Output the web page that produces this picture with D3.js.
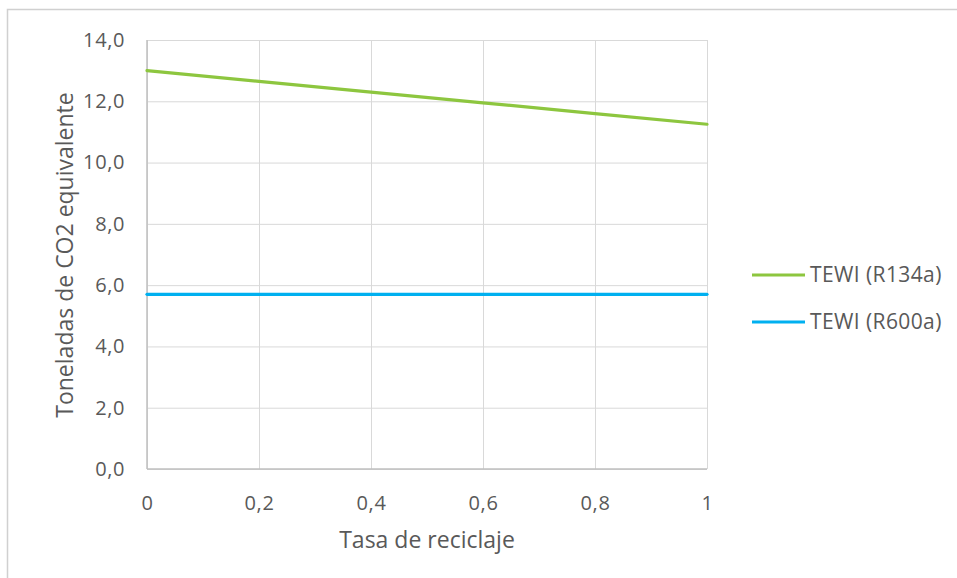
<!DOCTYPE html>
<html>
<head>
<meta charset="utf-8">
<script src="https://cdn.jsdelivr.net/npm/d3@7/dist/d3.min.js"></script>
<style>
  html, body { margin: 0; padding: 0; background: #fff; }
  svg { display: block; }
  text { font-family: "Open Sans", "Noto Sans", sans-serif; fill: #595959; }
</style>
</head>
<body>
<svg id="chart" width="957" height="578"></svg>
<script>
// Recycling rate (x) and TEWI in tonnes of CO2 equivalent
const recyclingRate = [0, 0.2, 0.4, 0.6, 0.8, 1];
const tewiR134a = [13.0, 12.65, 12.3, 11.95, 11.6, 11.25];
const tewiR600a = [5.7, 5.7, 5.7, 5.7, 5.7, 5.7];
const seriesNames = ["TEWI (R134a)", "TEWI (R600a)"];
const seriesColors = ["#8DC63F", "#00B0F0"];
const yTicks = [0, 2, 4, 6, 8, 10, 12, 14];
const xTicks = [0, 0.2, 0.4, 0.6, 0.8, 1];

const svg = d3.select("#chart");

// outer chart frame
svg.append("rect")
  .attr("x", 7.5).attr("y", 9.5)
  .attr("width", 960).attr("height", 580)
  .attr("fill", "none").attr("stroke", "#d0d0d0").attr("stroke-width", 1.5);

const plot = { left: 147, right: 707, top: 40, bottom: 469 };

const x = d3.scaleLinear().domain([0, 1]).range([plot.left, plot.right]);
const y = d3.scaleLinear().domain([0, 14]).range([plot.bottom, plot.top]);

const fmtY = d => d3.format(".1f")(d).replace(".", ",");
const fmtX = d => String(d).replace(".", ",");

// horizontal gridlines + y labels
const yAxis = d3.axisLeft(y).tickValues(yTicks).tickFormat(fmtY)
  .tickSize(-(plot.right - plot.left)).tickPadding(22);
const gy = svg.append("g").attr("transform", `translate(${plot.left},0)`).call(yAxis);
gy.select(".domain").remove();
gy.selectAll(".tick line").attr("stroke", "#d9d9d9").attr("stroke-width", 1);
gy.selectAll(".tick text").style("font-size", "20px").style("letter-spacing", "0.6px")
  .attr("fill", "#595959");

// vertical gridlines + x labels
const xAxis = d3.axisBottom(x).tickValues(xTicks).tickFormat(fmtX)
  .tickSize(-(plot.bottom - plot.top)).tickPadding(27);
const gx = svg.append("g").attr("transform", `translate(0,${plot.bottom})`).call(xAxis);
gx.select(".domain").remove();
gx.selectAll(".tick line").attr("stroke", "#d9d9d9").attr("stroke-width", 1);
gx.selectAll(".tick text").style("font-size", "20px").style("letter-spacing", "0.6px")
  .attr("fill", "#595959");

// axis lines
svg.append("line").attr("x1", plot.left).attr("x2", plot.right)
  .attr("y1", plot.bottom).attr("y2", plot.bottom)
  .attr("stroke", "#bfbfbf").attr("stroke-width", 1.5);
svg.append("line").attr("x1", plot.left).attr("x2", plot.left)
  .attr("y1", plot.top).attr("y2", plot.bottom)
  .attr("stroke", "#bfbfbf").attr("stroke-width", 1.5);

// series lines
const line = d3.line().x((d, i) => x(recyclingRate[i])).y(d => y(d));
[tewiR134a, tewiR600a].forEach((vals, k) => {
  svg.append("path").datum(vals)
    .attr("d", line)
    .attr("fill", "none")
    .attr("stroke", seriesColors[k])
    .attr("stroke-width", 3.2)
    .attr("stroke-linecap", "round");
});

// axis titles
svg.append("text")
  .attr("x", (plot.left + plot.right) / 2).attr("y", 548)
  .attr("text-anchor", "middle")
  .style("font-size", "23px")
  .text("Tasa de reciclaje");

svg.append("text")
  .attr("transform", "translate(73,255) rotate(-90)")
  .attr("text-anchor", "middle")
  .style("font-size", "23px")
  .text("Toneladas de CO2 equivalente");

// legend
const legend = svg.append("g");
seriesNames.forEach((name, k) => {
  const ly = 275 + k * 47;
  legend.append("line")
    .attr("x1", 752).attr("x2", 805).attr("y1", ly).attr("y2", ly)
    .attr("stroke", seriesColors[k]).attr("stroke-width", 3.2);
  legend.append("text")
    .attr("x", 810).attr("y", ly + 7)
    .style("font-size", "21px")
    .style("letter-spacing", "0.4px")
    .text(name);
});
</script>
</body>
</html>
